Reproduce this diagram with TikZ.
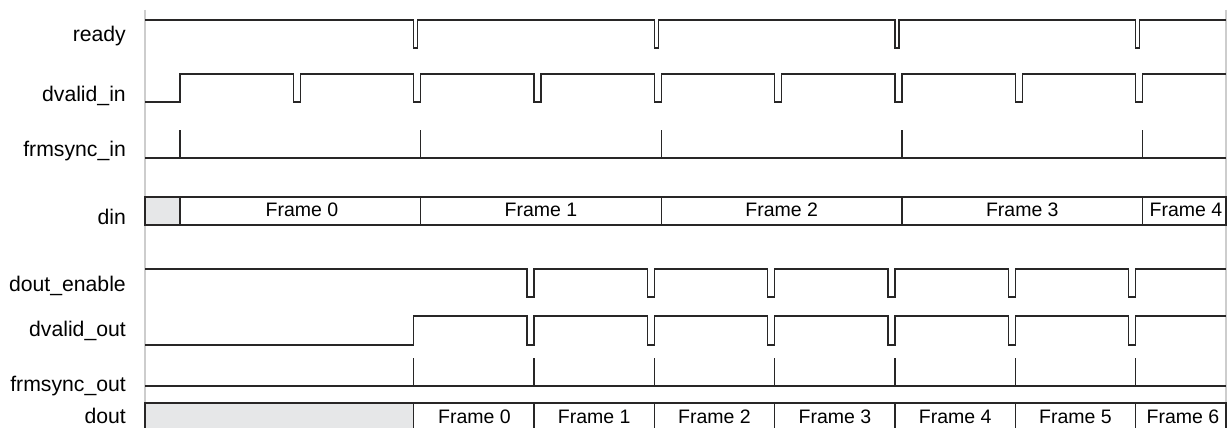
\documentclass[tikz,border=0pt]{standalone}
\usepackage{fontspec}
\setmainfont{Liberation Sans}
\definecolor{sig}{RGB}{40,38,38}
\definecolor{guide}{RGB}{205,205,205}
\definecolor{boxgray}{RGB}{230,231,232}
\tikzset{
  wave/.style={draw=sig, line width=1.3pt, line join=miter},
  guideline/.style={draw=guide, line width=1.4pt},
  graybox/.style={fill=boxgray},
  siglabel/.style={anchor=base east, inner sep=0pt, font=\fontsize{21.2}{25}\selectfont},
  framelabel/.style={anchor=base, inner sep=0pt, font=\fontsize{19.5}{23}\selectfont},
}
\begin{document}
\begin{tikzpicture}[x=1pt,y=-1pt]
\useasboundingbox (0,0) rectangle (1231,428);
% guide lines
\draw[guideline] (145,10) -- (145,440);
\draw[guideline] (1226,10) -- (1226,440);
% labels
\node[siglabel] (lready) at (126,41.7) {ready};
\node[siglabel] (ldvin) at (126,101.7) {dvalid\_in};
\node[siglabel] (lfsin) at (126,156.7) {frmsync\_in};
\node[siglabel] (ldin) at (126,224) {din};
\node[siglabel] (lden) at (126,291.7) {dout\_enable};
\node[siglabel] (ldvout) at (126,336.7) {dvalid\_out};
\node[siglabel] (lfsout) at (126,391.7) {frmsync\_out};
\node[siglabel] (ldout) at (126,423.3) {dout};
% ready
\draw[wave] (145,20) foreach \e in {420.7,661.3,902,1142.7} { -- (\e-7,20) -- (\e-7,48) -- (\e-3,48) -- (\e-3,20) } -- (1226,20);
% dvalid_in
\draw[wave] (145,102) -- (180,102) -- (180,74) foreach \e in {300.3,420.7,541,661.3,781.7,902,1022.3,1142.7} { -- (\e-7,74) -- (\e-7,102) -- (\e,102) -- (\e,74) } -- (1226,74);
% frmsync_in
\draw[wave] (145,158) -- (1226,158);
\foreach \t in {180,420.7,661.3,902,1142.7} \draw[wave] (\t,158) -- (\t,130);
% din
\fill[graybox] (145,197) rectangle (180,225);
\draw[wave] (145,197) rectangle (1226,225);
\foreach \t in {180,420.7,661.3,902,1142.7} \draw[wave] (\t,197) -- (\t,225);
\node[framelabel] (din0) at (302,216.7) {Frame 0};
\node[framelabel] (din1) at (541,216.7) {Frame 1};
\node[framelabel] (din2) at (781.7,216.7) {Frame 2};
\node[framelabel] (din3) at (1022.3,216.7) {Frame 3};
\node[framelabel] (din4) at (1186,216.7) {Frame 4};
% dout_enable
\draw[wave] (145,269) foreach \e in {534,654.3,774.7,895,1015.3,1135.7} { -- (\e-7,269) -- (\e-7,297) -- (\e,297) -- (\e,269) } -- (1226,269);
% dvalid_out
\draw[wave] (145,345) -- (413.7,345) -- (413.7,316) foreach \e in {534,654.3,774.7,895,1015.3,1135.7} { -- (\e-7,316) -- (\e-7,345) -- (\e,345) -- (\e,316) } -- (1226,316);
% frmsync_out
\draw[wave] (145,386) -- (1226,386);
\foreach \t in {413.7,534,654.3,774.7,895,1015.3,1135.7} \draw[wave] (\t,386) -- (\t,358);
% dout
\fill[graybox] (145,403) rectangle (413.7,432);
\draw[wave] (145,403) rectangle (1226,432);
\foreach \t in {413.7,534,654.3,774.7,895,1015.3,1135.7} \draw[wave] (\t,403) -- (\t,432);
\node[framelabel] (do0) at (474.5,423.3) {Frame 0};
\node[framelabel] (do1) at (594.2,423.3) {Frame 1};
\node[framelabel] (do2) at (714.5,423.3) {Frame 2};
\node[framelabel] (do3) at (834.9,423.3) {Frame 3};
\node[framelabel] (do4) at (955.2,423.3) {Frame 4};
\node[framelabel] (do5) at (1075.5,423.3) {Frame 5};
\node[framelabel] (do6) at (1183,423.3) {Frame 6};
\end{tikzpicture}
\end{document}
